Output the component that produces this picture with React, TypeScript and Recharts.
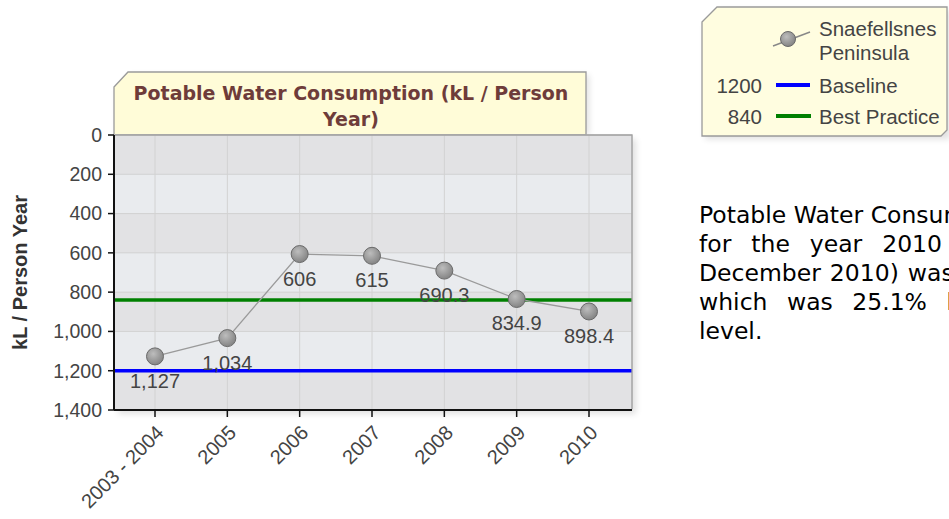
import React from 'react';
import { LineChart, Line, XAxis, YAxis, CartesianGrid, ReferenceLine, LabelList } from 'recharts';

const categories = ['2003 - 2004', '2005', '2006', '2007', '2008', '2009', '2010'];
const consumption = [1127, 1034, 606, 615, 690.3, 834.9, 898.4];
const yTicks = [0, 200, 400, 600, 800, 1000, 1200, 1400];
const baselineValue = 1200;
const bestPracticeValue = 840;
const seriesLines = ['Snaefellsnes', 'Peninsula'];
const baselineName = 'Baseline';
const bestPracticeName = 'Best Practice';
const titleLines = ['Potable Water Consumption (kL / Person', 'Year)'];
const yAxisTitle = 'kL / Person Year';
const paragraphLines = [
  'Potable Water Consumption',
  'for the year 2010 (January',
  'December 2010) was 898.4',
  'which was 25.1% below the',
  'level.',
];
const paragraphSpacing = [0, 12.5, 1.5, 12, 0];

const data = categories.map((c, i) => ({ category: c, value: consumption[i] }));

const SANS = "'Liberation Sans', Arial, sans-serif";
const VERDANA = "'DejaVu Sans', Verdana, sans-serif";

const fmt = (v: number) => v.toLocaleString('en-US');

const Dot = (props: any) => {
  const { cx, cy } = props;
  if (cx == null || cy == null) return null;
  return <circle cx={cx} cy={cy} r={8.5} fill="url(#dotGrad)" stroke="#6a6a6a" strokeWidth={1} />;
};

const ValueLabel = (props: any) => {
  const vb = props.viewBox || {};
  const x = props.x != null ? props.x : vb.x;
  const y = props.y != null ? props.y : vb.y;
  return (
    <text x={x} y={y + 24.5} textAnchor="middle" dominantBaseline="central" fontSize={20} fill="#444" fontFamily={SANS}>
      {fmt(Number(props.value))}
    </text>
  );
};

const XTick = (props: any) => {
  const { x, y, payload } = props;
  const px = x + 5;
  const py = y + 10;
  return (
    <text x={px} y={py} transform={`rotate(-45 ${px} ${py})`} textAnchor="end" dominantBaseline="central" fontSize={20} fill="#444" fontFamily={SANS}>
      {payload.value}
    </text>
  );
};

const YTitle = (props: any) => {
  const vb = props.viewBox || { x: 0, y: 135, width: 114, height: 275 };
  const x = vb.x + 20;
  const y = vb.y + vb.height / 2;
  return (
    <text x={x} y={y} transform={`rotate(-90 ${x} ${y})`} textAnchor="middle" dominantBaseline="central" fontSize={20} fontWeight="bold" fill="#333" fontFamily={SANS}>
      {yAxisTitle}
    </text>
  );
};

export default function App() {
  return (
    <div style={{ position: 'fixed', left: 0, top: 0, width: 949, height: 519, overflow: 'hidden', background: '#fff' }}>
      <svg width={949} height={519} style={{ position: 'absolute', left: 0, top: 0 }}>
        <defs>
          <radialGradient id="dotGrad" cx="40%" cy="35%" r="70%">
            <stop offset="0%" stopColor="#bdbdbd" />
            <stop offset="100%" stopColor="#808080" />
          </radialGradient>
          <filter id="shadow" x="-10%" y="-10%" width="130%" height="130%">
            <feGaussianBlur stdDeviation="3" />
          </filter>
        </defs>
        <rect x={118} y={139} width={518} height={275} fill="#000" opacity={0.12} filter="url(#shadow)" />
        <polygon points="117,90 131,75 589,75 589,135 117,135" fill="#000" opacity={0.12} filter="url(#shadow)" />
        <polygon points="114,87 128,72 586,72 586,135 114,135" fill="#fffcd8" stroke="#9a9a9a" strokeWidth={1.3} />
        {titleLines.map((t, i) => (
          <text key={i} x={351} y={93 + i * 26} textAnchor="middle" dominantBaseline="central" fontSize={19} fontWeight="bold" fill="#6e3c3a" fontFamily={VERDANA}>
            {t}
          </text>
        ))}
        <polygon points="705,25 720,10 950,10 950,139 705,139" fill="#000" opacity={0.12} filter="url(#shadow)" />
        <polygon points="702,22 717,7 947,7 947,130 941,136 702,136" fill="#fffde0" stroke="#9a9a9a" strokeWidth={1.3} />
      </svg>

      <div style={{ position: 'absolute', left: 0, top: 0 }}>
        <LineChart width={949} height={519} data={data} margin={{ top: 135, right: 317, bottom: 0, left: 0 }}>
          <CartesianGrid stroke="#d2d2d2" strokeWidth={1} horizontalFill={['#e2e2e4', '#e9ebee']} />
          <XAxis
            dataKey="category"
            padding={{ left: 41, right: 43 }}
            height={109}
            interval={0}
            tickSize={7}
            tickLine={{ stroke: '#111', strokeWidth: 1.5 }}
            axisLine={{ stroke: '#111', strokeWidth: 2 }}
            tick={<XTick />}
          />
          <YAxis
            type="number"
            domain={[0, 1400]}
            ticks={yTicks}
            reversed
            width={114}
            interval={0}
            tickSize={6}
            tickMargin={6}
            tickFormatter={fmt}
            tick={{ fontSize: 19.5, fill: '#444', fontFamily: SANS }}
            tickLine={{ stroke: '#111', strokeWidth: 1.5 }}
            axisLine={{ stroke: '#111', strokeWidth: 2 }}
            label={{ content: <YTitle /> }}
          />
          <ReferenceLine y={baselineValue} stroke="#0000ff" strokeWidth={3.5} />
          <ReferenceLine y={bestPracticeValue} stroke="#008000" strokeWidth={3.5} />
          <Line
            dataKey="value"
            stroke="#9a9a9a"
            strokeWidth={1.3}
            dot={<Dot />}
            activeDot={false}
            isAnimationActive={false}
          >
            <LabelList dataKey="value" content={<ValueLabel />} />
          </Line>
        </LineChart>
      </div>

      <svg width={949} height={519} style={{ position: 'absolute', left: 0, top: 0, pointerEvents: 'none' }}>
        <path d="M115,135 H632 V409" fill="none" stroke="#a0a0a0" strokeWidth={1.3} />
        <line x1={773} y1={46} x2={810} y2={32} stroke="#888" strokeWidth={1.5} />
        <circle cx={788} cy={39} r={7.5} fill="url(#dotGrad)" stroke="#6a6a6a" strokeWidth={1} />
        {seriesLines.map((t, i) => (
          <text key={i} x={819} y={28 + i * 24} dominantBaseline="central" fontSize={20.5} fill="#444" fontFamily={SANS}>
            {t}
          </text>
        ))}
        <text x={762} y={85} textAnchor="end" dominantBaseline="central" fontSize={20.5} fill="#444" fontFamily={SANS}>{baselineValue}</text>
        <line x1={776} y1={85} x2={810} y2={85} stroke="#0000ff" strokeWidth={4} />
        <text x={819} y={85} dominantBaseline="central" fontSize={20.5} fill="#444" fontFamily={SANS}>{baselineName}</text>
        <text x={762} y={116} textAnchor="end" dominantBaseline="central" fontSize={20.5} fill="#444" fontFamily={SANS}>{bestPracticeValue}</text>
        <line x1={776} y1={116} x2={811} y2={116} stroke="#008000" strokeWidth={4} />
        <text x={819} y={116} dominantBaseline="central" fontSize={20.5} fill="#444" fontFamily={SANS}>{bestPracticeName}</text>
      </svg>

      <div style={{ position: 'absolute', left: 699, top: 201, fontFamily: VERDANA, fontSize: 23.5, lineHeight: '29px', color: '#000', whiteSpace: 'nowrap' }}>
        {paragraphLines.map((t, i) => (
          <div key={i} style={{ wordSpacing: paragraphSpacing[i] }}>{t}</div>
        ))}
      </div>
    </div>
  );
}
